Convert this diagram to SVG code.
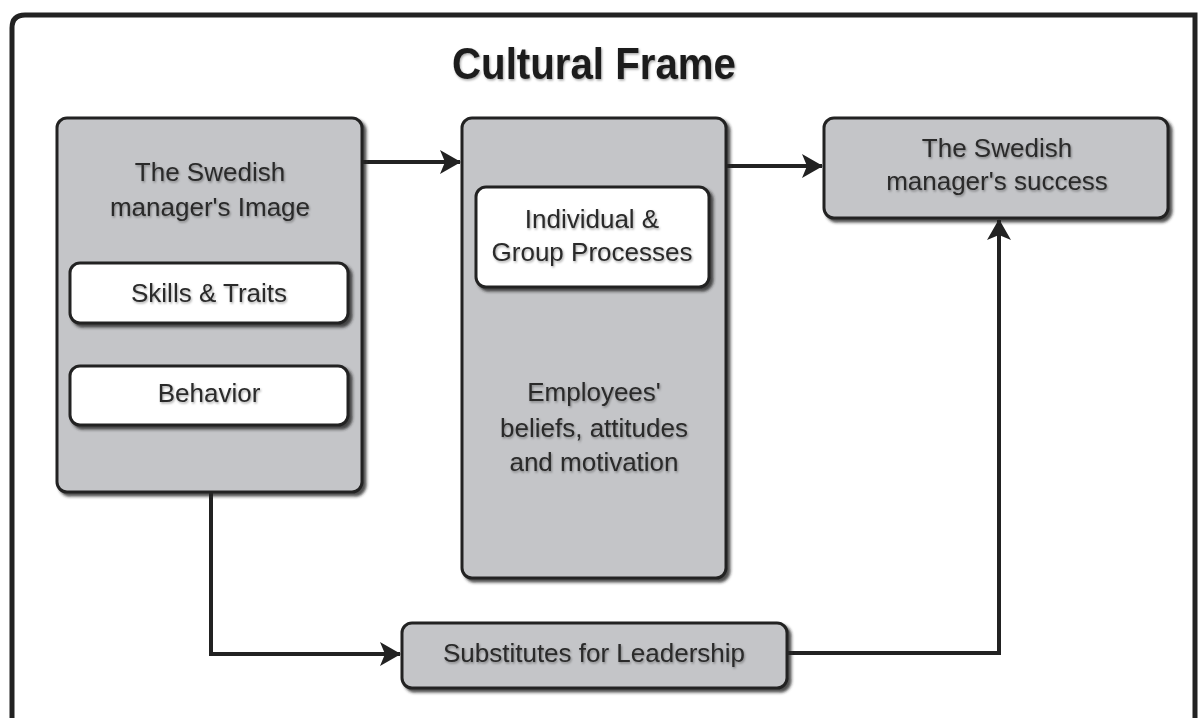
<svg xmlns="http://www.w3.org/2000/svg" width="1198" height="718" viewBox="0 0 1198 718">
<defs>
<filter id="sh" x="-10%" y="-10%" width="130%" height="130%">
<feDropShadow dx="3" dy="3" stdDeviation="1.5" flood-color="#222" flood-opacity="0.8"/>
</filter>
<filter id="tsh" x="-5%" y="-20%" width="110%" height="140%">
<feDropShadow dx="1" dy="1.5" stdDeviation="1" flood-color="#000" flood-opacity="0.35"/>
</filter>
<marker id="ah" markerUnits="userSpaceOnUse" markerWidth="22" markerHeight="24" refX="20" refY="12" orient="auto">
<path d="M0,0 L21,12 L0,24 L5,12 z" fill="#222"/>
</marker>
<style>
.gray{fill:#c4c5c8;stroke:#222;stroke-width:3;filter:url(#sh)}
.white{fill:#fff;stroke:#222;stroke-width:3;filter:url(#sh)}
.t{font-family:"Liberation Sans",Arial,sans-serif;font-size:26px;fill:#2a2a2a;text-anchor:middle;filter:url(#tsh)}
.title{font-family:"Liberation Sans",Arial,sans-serif;font-size:45px;font-weight:bold;fill:#1e1e1e;text-anchor:middle;filter:url(#tsh)}
.c{fill:none;stroke:#222;stroke-width:4}
</style>
</defs>
<rect width="1198" height="718" fill="#fff"/>
<g id="frame">
<path d="M12,720 V28 Q12,15 25,15 H1195 V720" fill="none" stroke="#222" stroke-width="5"/>
<text class="title" x="594" y="79" textLength="284" lengthAdjust="spacingAndGlyphs">Cultural Frame</text>
</g>
<g id="connectors">
<path class="c" d="M362,162 H460" marker-end="url(#ah)"/>
<path class="c" d="M726,166 H822" marker-end="url(#ah)"/>
<path class="c" d="M211,492 V654 H400" marker-end="url(#ah)"/>
<path class="c" d="M787,653 H999 V220" marker-end="url(#ah)"/>
<path d="M210,323 V366" fill="none" stroke="#222" stroke-width="3"/>
</g>
<g id="image">
<rect class="gray" x="57" y="118" width="305" height="374" rx="10"/>
<text class="t" x="210" y="181">The Swedish</text>
<text class="t" x="210" y="216">manager's Image</text>
</g>
<g id="skills">
<rect class="white" x="70" y="263" width="278" height="60" rx="10"/>
<text class="t" x="209" y="302">Skills &amp; Traits</text>
</g>
<g id="behavior">
<rect class="white" x="70" y="366" width="278" height="59" rx="10"/>
<text class="t" x="209" y="402">Behavior</text>
</g>
<g id="employees">
<rect class="gray" x="462" y="118" width="264" height="460" rx="10"/>
<text class="t" x="594" y="401">Employees'</text>
<text class="t" x="594" y="437">beliefs, attitudes</text>
<text class="t" x="594" y="471">and motivation</text>
</g>
<g id="processes">
<rect class="white" x="476" y="187" width="233" height="100" rx="10"/>
<text class="t" x="592" y="228">Individual &amp;</text>
<text class="t" x="592" y="261">Group Processes</text>
</g>
<g id="success">
<rect class="gray" x="824" y="118" width="344" height="100" rx="10"/>
<text class="t" x="997" y="157">The Swedish</text>
<text class="t" x="997" y="190">manager's success</text>
</g>
<g id="substitutes">
<rect class="gray" x="402" y="623" width="385" height="65" rx="10"/>
<text class="t" x="594" y="662">Substitutes for Leadership</text>
</g>
</svg>
